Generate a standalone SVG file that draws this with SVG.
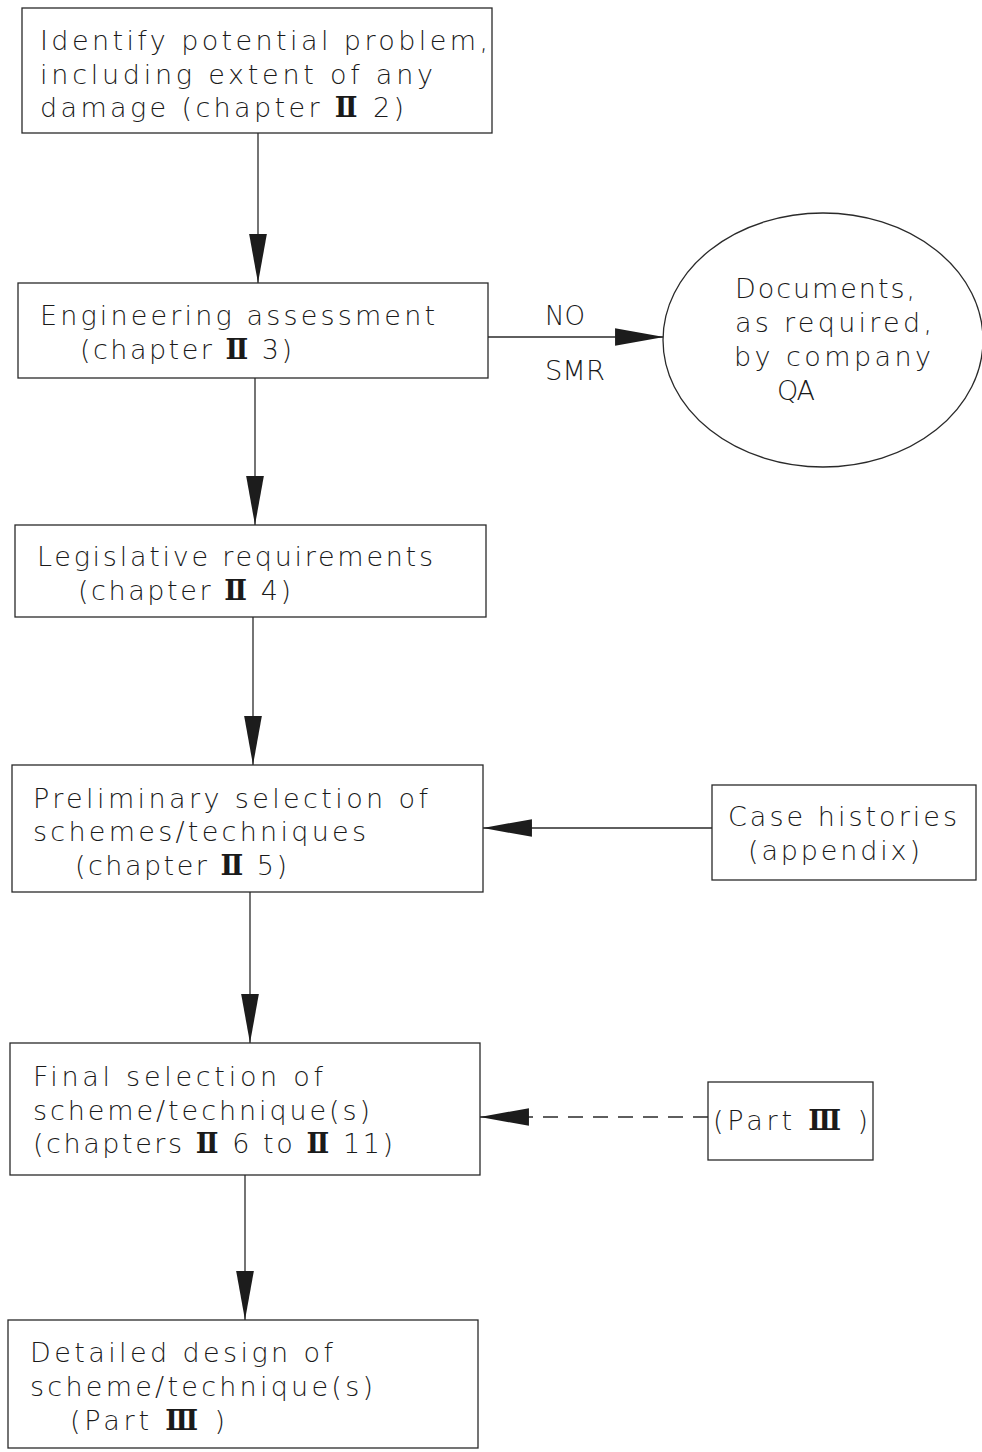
<svg xmlns="http://www.w3.org/2000/svg" width="982" height="1452" viewBox="0 0 982 1452">
  <style>
    .box { fill: #ffffff; stroke: #2a2a2a; stroke-width: 1.3; }
    .lbl { font-family: "DejaVu Sans", "Liberation Sans", sans-serif; font-size: 27px; font-weight: 200; fill: #1a1a1a; }
    .rn { font-family: "DejaVu Serif", "Liberation Serif", serif; font-weight: bold; }
    .wire { fill: none; stroke: #2a2a2a; stroke-width: 1.3; }
    .dash { stroke-dasharray: 15 10; }
  </style>
  <defs>
    <marker id="head" markerUnits="userSpaceOnUse" markerWidth="50" markerHeight="20" viewBox="0 0 48 18" refX="47" refY="9" orient="auto">
      <path d="M0,0.5 L47,9 L0,17.5 Z" fill="#1c1c1c"/>
    </marker>
  </defs>

  <rect width="982" height="1452" fill="#ffffff"/>

  <g id="connectors">
    <line class="wire" x1="258" y1="133" x2="258" y2="283" marker-end="url(#head)"/>
    <line class="wire" x1="488" y1="337" x2="664" y2="337" marker-end="url(#head)"/>
    <line class="wire" x1="255" y1="378" x2="255" y2="525" marker-end="url(#head)"/>
    <line class="wire" x1="253" y1="617" x2="253" y2="765" marker-end="url(#head)"/>
    <line class="wire" x1="712" y1="828" x2="483" y2="828" marker-end="url(#head)"/>
    <line class="wire" x1="250" y1="892" x2="250" y2="1043" marker-end="url(#head)"/>
    <path class="wire dash" d="M708,1117 L530,1117"/>
    <line class="wire" x1="530" y1="1117" x2="480" y2="1117" marker-end="url(#head)"/>
    <line class="wire" x1="245" y1="1175" x2="245" y2="1320" marker-end="url(#head)"/>
    <text class="lbl" x="545" y="325" textLength="40" lengthAdjust="spacingAndGlyphs">NO</text>
    <text class="lbl" x="545" y="380" textLength="60" lengthAdjust="spacingAndGlyphs">SMR</text>
  </g>

  <g id="identify">
    <rect class="box" x="22" y="8" width="470" height="125"/>
    <text class="lbl" x="40" y="50" textLength="448" lengthAdjust="spacing">Identify potential problem,</text>
    <text class="lbl" x="40" y="84" textLength="393" lengthAdjust="spacing">including extent of any</text>
    <text class="lbl" x="40" y="117" textLength="364" lengthAdjust="spacing">damage (chapter <tspan class="rn">Ⅱ</tspan> 2)</text>
  </g>

  <g id="assessment">
    <rect class="box" x="18" y="283" width="470" height="95"/>
    <text class="lbl" x="40" y="325" textLength="395" lengthAdjust="spacing">Engineering assessment</text>
    <text class="lbl" x="80" y="359" textLength="212" lengthAdjust="spacing">(chapter <tspan class="rn">Ⅱ</tspan> 3)</text>
  </g>

  <g id="documents">
    <ellipse class="box" cx="823" cy="340" rx="160" ry="127"/>
    <text class="lbl" x="735" y="298" textLength="180" lengthAdjust="spacing">Documents,</text>
    <text class="lbl" x="735" y="332" textLength="197" lengthAdjust="spacing">as required,</text>
    <text class="lbl" x="734" y="366" textLength="197" lengthAdjust="spacing">by company</text>
    <text class="lbl" x="777" y="400" textLength="38" lengthAdjust="spacing">QA</text>
  </g>

  <g id="legislative">
    <rect class="box" x="15" y="525" width="471" height="92"/>
    <text class="lbl" x="37" y="566" textLength="396" lengthAdjust="spacing">Legislative requirements</text>
    <text class="lbl" x="78" y="600" textLength="213" lengthAdjust="spacing">(chapter <tspan class="rn">Ⅱ</tspan> 4)</text>
  </g>

  <g id="preliminary">
    <rect class="box" x="12" y="765" width="471" height="127"/>
    <text class="lbl" x="33" y="808" textLength="395" lengthAdjust="spacing">Preliminary selection of</text>
    <text class="lbl" x="33" y="841" textLength="333" lengthAdjust="spacing">schemes/techniques</text>
    <text class="lbl" x="75" y="875" textLength="212" lengthAdjust="spacing">(chapter <tspan class="rn">Ⅱ</tspan> 5)</text>
  </g>

  <g id="case-histories">
    <rect class="box" x="712" y="785" width="264" height="95"/>
    <text class="lbl" x="728" y="826" textLength="229" lengthAdjust="spacing">Case histories</text>
    <text class="lbl" x="748" y="860" textLength="172" lengthAdjust="spacing">(appendix)</text>
  </g>

  <g id="final">
    <rect class="box" x="10" y="1043" width="470" height="132"/>
    <text class="lbl" x="33" y="1086" textLength="290" lengthAdjust="spacing">Final selection of</text>
    <text class="lbl" x="33" y="1120" textLength="337" lengthAdjust="spacing">scheme/technique(s)</text>
    <text class="lbl" x="33" y="1153" textLength="360" lengthAdjust="spacing">(chapters <tspan class="rn">Ⅱ</tspan> 6 to <tspan class="rn">Ⅱ</tspan> 11)</text>
  </g>

  <g id="part-three">
    <rect class="box" x="708" y="1082" width="165" height="78"/>
    <text class="lbl" x="713" y="1130" textLength="155" lengthAdjust="spacing">(Part <tspan class="rn">Ⅲ</tspan> )</text>
  </g>

  <g id="detailed">
    <rect class="box" x="8" y="1320" width="470" height="128"/>
    <text class="lbl" x="30" y="1362" textLength="303" lengthAdjust="spacing">Detailed design of</text>
    <text class="lbl" x="30" y="1396" textLength="343" lengthAdjust="spacing">scheme/technique(s)</text>
    <text class="lbl" x="70" y="1430" textLength="155" lengthAdjust="spacing">(Part <tspan class="rn">Ⅲ</tspan> )</text>
  </g>
</svg>
